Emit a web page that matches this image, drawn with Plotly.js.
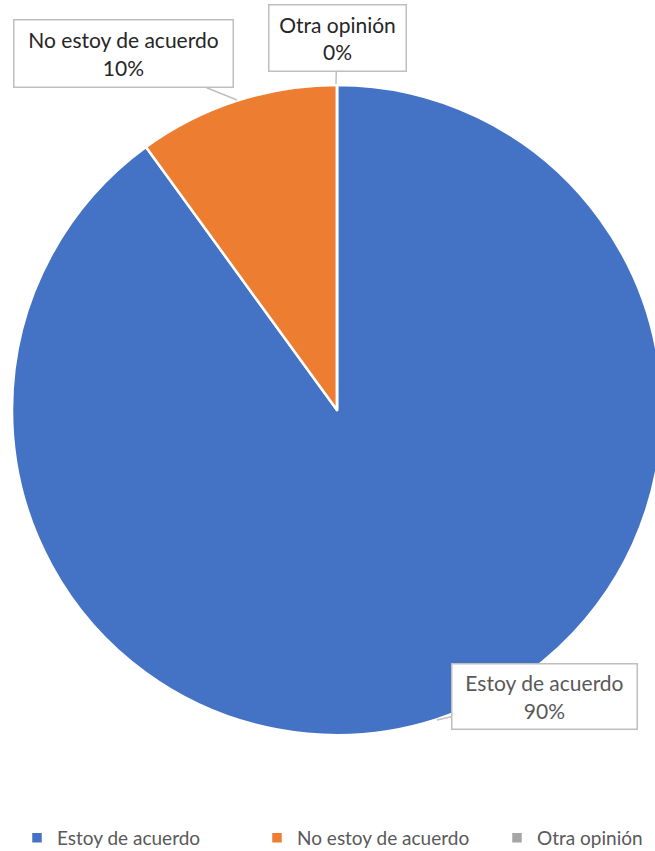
<!DOCTYPE html>
<html>
<head>
<meta charset="utf-8">
<script src="https://cdn.plot.ly/plotly-3.0.1.min.js"></script>
<style>
html,body{margin:0;padding:0;overflow:hidden;background:#fff;width:655px;height:851px;}
#chart{width:740px;height:851px;}
</style>
</head>
<body>
<div id="chart"></div>
<script>
// Data
var categories = ["Estoy de acuerdo", "No estoy de acuerdo", "Otra opinión"];
var values = [90, 10, 0];
var percentLabels = ["90%", "10%", "0%"];
var colors = ["#4472C4", "#ED7D31", "#A5A5A5"];

var W = 740, H = 851;
function px(x){ return x / W; }
function py(y){ return 1 - y / H; }

var FONT = "Lato, Carlito, Calibri, 'Noto Sans', sans-serif";

var trace = {
  type: "pie",
  labels: categories,
  values: values,
  sort: false,
  direction: "clockwise",
  rotation: 0,
  textinfo: "none",
  hoverinfo: "none",
  marker: { colors: colors, line: { color: "#ffffff", width: 2.5 } },
  domain: { x: [px(12), px(662)], y: [py(735), py(85)] },
  showlegend: true
};

// callout definitions (layout only): anchor point on pie, box centre
var callouts = [
  { i: 0, pt: [437, 720], box: [544, 696], w: 180, h: 60, color: "#595959" },
  { i: 1, pt: [237, 100], box: [123, 54], w: 214, h: 62, color: "#262626" },
  { i: 2, pt: [336, 84], box: [337, 37.5], w: 132, h: 61, color: "#262626" }
];

var annotations = callouts.map(function(c){
  return {
    xref: "paper", yref: "paper",
    x: px(c.pt[0]), y: py(c.pt[1]),
    ax: c.box[0] - c.pt[0], ay: c.box[1] - c.pt[1],
    axref: "pixel", ayref: "pixel",
    text: categories[c.i] + "<br>" + percentLabels[c.i],
    showarrow: true, arrowhead: 0, arrowwidth: 1.5, arrowcolor: "#BFBFBF",
    standoff: 0, startstandoff: 0,
    bgcolor: "#ffffff", bordercolor: "#BFBFBF", borderwidth: 1.5, borderpad: 2,
    width: c.w, height: c.h, align: "center", valign: "middle",
    font: { family: FONT, size: 21, color: c.color }
  };
});

var layout = {
  width: W, height: H,
  margin: { l: 0, r: 0, t: 0, b: 0, autoexpand: false },
  paper_bgcolor: "#ffffff",
  showlegend: true,
  legend: {
    orientation: "h",
    x: px(17), xanchor: "left",
    y: py(838), yanchor: "middle",
    entrywidth: 195, entrywidthmode: "pixels",
    font: { family: FONT, size: 19, color: "#595959" },
    itemclick: false, itemdoubleclick: false
  },
  annotations: annotations,
  hovermode: false
};

Plotly.newPlot("chart", [trace], layout, { displayModeBar: false, staticPlot: true });
</script>
</body>
</html>
